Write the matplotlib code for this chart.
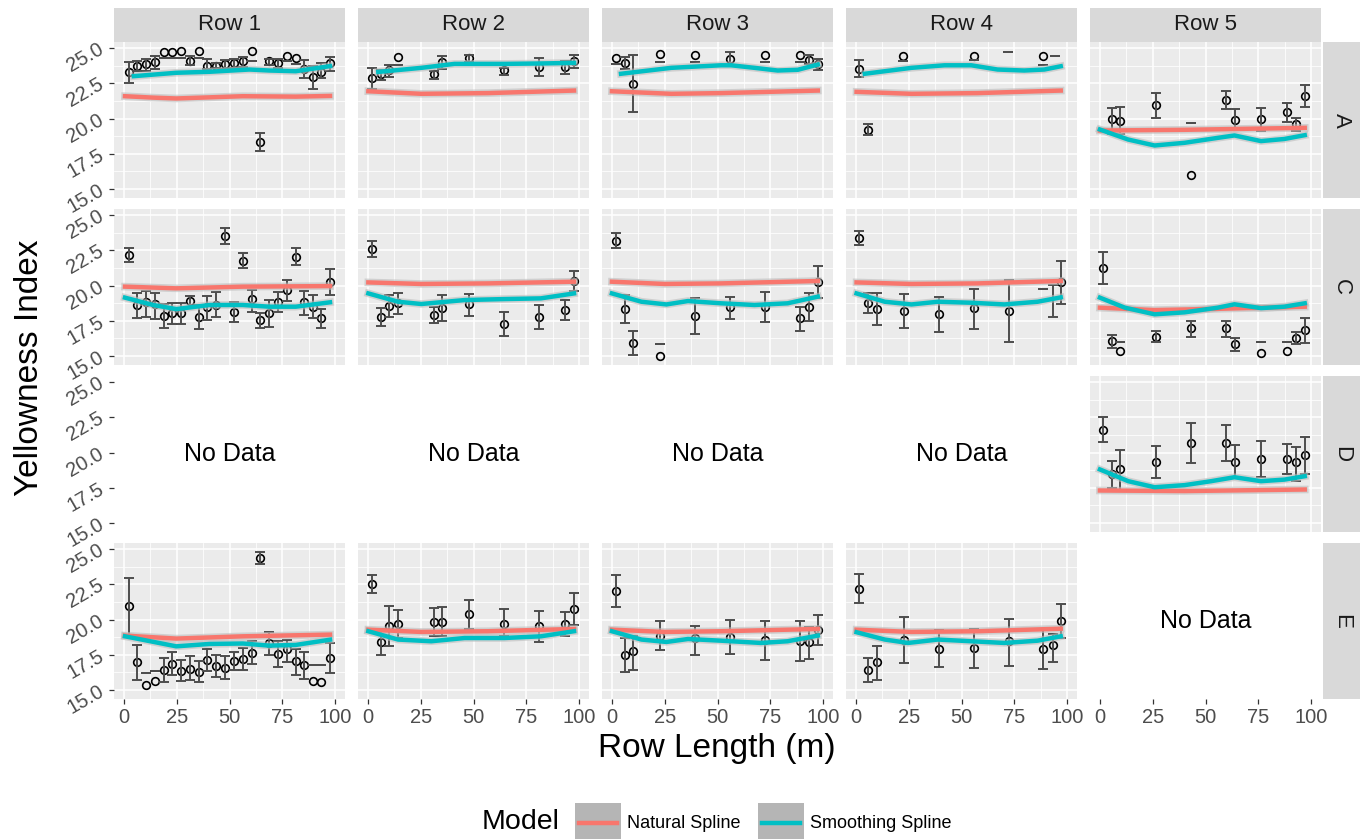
import matplotlib.pyplot as plt
from matplotlib.patches import Rectangle
from matplotlib.lines import Line2D

plt.rcParams["font.family"] = ["Liberation Sans", "DejaVu Sans"]

# facets
ROWS = ["A", "C", "D", "E"]
COLS = ["Row 1", "Row 2", "Row 3", "Row 4", "Row 5"]
EMPTY = ["D1", "D2", "D3", "D4", "E5"]

X_TICKS = [0, 25, 50, 75, 100]
Y_TICKS = [15.0, 17.5, 20.0, 22.5, 25.0]

# sample positions (m) per field row
X1 = [2.4, 6.4, 10.5, 14.6, 18.9, 22.9, 27.2, 31.3, 35.5, 39.5, 43.7, 48.0,
      52.2, 56.3, 60.5, 64.6, 68.9, 73.0, 77.0, 81.3, 85.4, 89.5, 93.5, 97.6]
X2 = [2.0, 6.1, 10.2, 14.3, 31.1, 35.2, 47.8, 64.5, 81.1, 93.5, 97.6]
X3 = [1.9, 6.1, 10.2, 22.6, 39.2, 56.0, 72.5, 89.0, 93.3, 97.5]
X5 = [1.6, 5.5, 9.7, 26.4, 42.9, 59.8, 63.8, 76.3, 88.7, 92.9, 97.0]

# observed points
PT_X = {
    "A1": X1, "C1": X1, "E1": X1,
    "A2": X2, "C2": X2, "E2": X2,
    "A3": X3, "C3": X3, "E3": X3,
    "A4": [1.6, 5.8, 22.3, 55.7, 88.8],
    "C4": [1.6, 5.8, 10.0, 22.6, 39.3, 55.8, 72.3, 97.3],
    "E4": [1.6, 5.8, 10.0, 22.6, 39.3, 55.8, 72.3, 88.8, 93.1, 97.3],
    "A5": X5[1:], "C5": X5, "D5": X5,
}
PT_Y = {
    "A1": [23.28, 23.7, 23.83, 23.99, 24.7, 24.72, 24.77, 24.1, 24.77, 23.75, 23.75, 23.87,
           23.94, 24.06, 24.77, 18.32, 24.06, 23.94, 24.41, 24.32, 23.52, 22.93, 23.28, 23.94],
    "C1": [22.16, 18.62, 18.81, 18.69, 17.84, 18.03, 18.03, 18.9, 17.74, 18.45, 18.62, 23.53,
           18.14, 21.76, 19.04, 17.55, 18.03, 18.85, 19.68, 22.04, 18.85, 18.5, 17.67, 20.23],
    "E1": [20.94, 16.96, 15.36, 15.62, 16.4, 16.87, 16.35, 16.52, 16.3, 17.16, 16.68, 16.6,
           17.06, 17.23, 17.63, 24.37, 18.34, 17.56, 17.94, 17.04, 16.75, 15.67, 15.57, 17.28],
    "A2": [22.88, 23.17, 23.47, 24.34, 23.17, 23.99, 24.3, 23.47, 23.66, 23.66, 24.06],
    "C2": [22.59, 17.79, 18.57, 18.73, 17.91, 18.43, 18.66, 17.27, 17.79, 18.26, 20.32],
    "E2": [22.52, 18.41, 19.57, 19.71, 19.83, 19.83, 20.4, 19.71, 19.52, 19.69, 20.77],
    "A3": [24.3, 23.94, 22.48, 24.58, 24.53, 24.23, 24.53, 24.48, 24.18, 23.87],
    "C3": [23.18, 18.33, 15.95, 15.02, 17.84, 18.45, 18.5, 17.67, 18.5, 20.23],
    "E3": [22.0, 17.51, 17.79, 18.86, 18.69, 18.76, 18.53, 18.5, 18.39, 19.28],
    "A4": [23.52, 19.22, 24.41, 24.41, 24.41],
    "C4": [23.35, 18.78, 18.33, 18.19, 17.95, 18.38, 18.19, 20.23],
    "E4": [22.17, 16.4, 16.97, 18.57, 17.91, 17.98, 18.45, 17.94, 18.17, 19.88],
    "A5": [20.0, 19.81, 20.94, 15.99, 21.3, 19.93, 20.0, 20.45, 19.58, 21.58],
    "C5": [21.26, 16.06, 15.38, 16.37, 16.96, 17.0, 15.83, 15.24, 15.38, 16.26, 16.82],
    "D5": [21.63, 18.49, 18.8, 19.31, 20.69, 20.69, 19.31, 19.55, 19.55, 19.31, 19.81],
}

# error bars (lo == hi draws a single dash)
BAR_X = dict(PT_X)
BAR_X["A4"] = [1.6, 5.8, 22.3, 55.7, 72.2, 88.8, 94.2]
BAR_X["C4"] = [1.6, 5.8, 10.0, 22.6, 39.3, 55.8, 72.3, 88.8, 93.1, 97.3]
BAR_LO = {
    "A1": [22.5, 23.4, 23.35, 23.5, 24.3, 24.3, 24.3, 23.78, 24.3, 23.52, 23.6, 23.52,
           23.6, 23.66, 24.1, 17.68, 23.8, 23.6, 24.1, 23.87, 22.88, 22.1, 22.9, 23.4],
    "C1": [21.69, 17.67, 17.8, 17.6, 17.0, 17.27, 17.27, 18.5, 16.9, 17.55, 17.74, 22.97,
           17.43, 21.26, 18.14, 17.0, 17.08, 18.1, 18.9, 21.45, 17.9, 17.67, 17.0, 19.33],
    "E1": [18.93, 15.69, 16.21, 16.38, 15.55, 16.1, 15.62, 15.7, 15.55, 16.38, 15.9, 15.8,
           16.4, 16.4, 16.87, 23.96, 17.5, 16.64, 16.96, 16.09, 15.79, 16.75, 16.75, 16.21],
    "A2": [22.12, 22.71, 22.93, 23.82, 22.83, 23.5, 24.0, 23.07, 23.0, 23.17, 23.59],
    "C2": [22.04, 17.15, 17.79, 17.98, 17.36, 17.51, 17.86, 16.44, 16.92, 17.55, 19.61],
    "E2": [21.88, 17.46, 18.15, 18.69, 18.86, 18.81, 19.35, 18.81, 18.41, 18.81, 19.59],
    "A3": [23.87, 23.54, 20.45, 24.0, 24.0, 23.82, 24.0, 24.0, 23.87, 23.47],
    "C3": [22.68, 17.32, 15.07, 15.85, 16.54, 17.62, 17.39, 16.8, 17.48, 19.09],
    "E3": [20.87, 16.26, 16.45, 17.82, 17.51, 17.56, 17.16, 17.04, 17.2, 18.17],
    "A4": [22.93, 18.82, 24.1, 24.13, 24.7, 23.82, 24.41],
    "C4": [22.87, 18.07, 17.2, 16.96, 16.73, 16.92, 16.02, 19.73, 17.79, 18.69],
    "E4": [21.18, 15.55, 15.74, 16.92, 16.61, 16.57, 16.68, 16.52, 16.99, 18.69],
    "A5": [18.87, 18.9, 20.05, 19.65, 20.64, 19.34, 19.1, 19.77, 19.1, 20.8],
    "C5": [20.08, 15.55, 15.97, 16.01, 16.37, 16.37, 15.35, 16.01, 15.97, 15.83, 15.94],
    "D5": [20.76, 17.5, 17.38, 18.21, 19.27, 19.43, 18.21, 18.25, 18.49, 17.97, 18.49],
}
BAR_HI = {
    "A1": [24.0, 24.06, 24.25, 24.46, 24.3, 24.3, 24.3, 24.46, 24.3, 24.23, 23.95, 24.13,
           24.2, 24.33, 24.1, 18.94, 24.2, 24.2, 24.1, 23.87, 24.16, 23.72, 23.95, 24.39],
    "C1": [22.64, 19.45, 19.6, 19.5, 18.67, 18.76, 18.76, 19.28, 18.62, 19.26, 19.52, 24.05,
           18.85, 22.28, 19.68, 18.03, 18.97, 19.52, 20.39, 22.64, 19.6, 19.33, 18.33, 21.17],
    "E1": [22.95, 18.22, 16.21, 16.38, 17.25, 17.72, 17.1, 17.4, 17.05, 17.92, 17.5, 17.4,
           17.72, 18.0, 18.45, 24.77, 19.1, 18.45, 18.57, 17.94, 17.7, 16.75, 16.75, 18.34],
    "A2": [23.59, 23.47, 23.77, 23.82, 23.4, 24.46, 24.5, 23.59, 24.3, 24.06, 24.48],
    "C2": [23.16, 18.43, 19.33, 19.44, 18.45, 19.33, 19.4, 18.1, 18.62, 18.97, 21.03],
    "E2": [23.18, 19.35, 20.94, 20.7, 20.82, 20.87, 21.41, 20.75, 20.63, 20.54, 21.88],
    "A3": [23.87, 24.34, 24.53, 24.0, 24.0, 24.7, 24.0, 24.0, 24.53, 24.23],
    "C3": [23.7, 19.33, 16.8, 15.85, 19.14, 19.21, 19.52, 18.5, 19.44, 21.38],
    "E3": [23.14, 18.69, 18.81, 19.87, 19.57, 19.95, 19.87, 19.87, 19.47, 20.35],
    "A4": [24.13, 19.62, 24.1, 24.13, 24.7, 23.82, 24.41],
    "C4": [23.87, 19.44, 19.49, 19.4, 19.21, 19.75, 20.39, 19.73, 20.04, 21.74],
    "E4": [23.23, 17.27, 18.15, 20.18, 19.28, 19.35, 20.06, 19.33, 19.0, 21.13],
    "A5": [20.76, 20.8, 21.82, 19.65, 21.93, 20.64, 20.76, 21.12, 20.07, 22.34],
    "C5": [22.4, 16.49, 15.97, 16.77, 17.5, 17.5, 16.26, 16.01, 15.97, 16.73, 17.67],
    "D5": [22.53, 19.43, 20.21, 20.45, 22.1, 21.93, 20.52, 20.8, 20.62, 20.4, 21.11],
}

# fitted curves: natural spline
NS_X = {
    "A1": [0.5, 13.8, 24.8, 40.6, 56.3, 81.4, 97.6],
    "C1": [0.5, 24.8, 56.3, 97.6],
    "E1": [0.5, 24.8, 56.3, 97.6],
    "A2": [0.2, 25.3, 56.8, 97.6], "C2": [0.2, 25.3, 56.8, 97.6], "E2": [0.2, 25.3, 56.8, 97.6],
    "A3": [0.0, 28.1, 51.7, 97.5], "C3": [0.0, 25.0, 51.7, 97.5], "E3": [0.0, 25.0, 51.7, 97.5],
    "A4": [0.3, 26.3, 57.7, 97.0], "C4": [0.3, 26.3, 57.7, 97.0], "E4": [0.3, 26.3, 57.7, 97.0],
    "A5": [0.0, 40.1, 97.0], "C5": [0.0, 25.9, 55.8, 97.0], "D5": [0.0, 40.1, 97.0],
}
NS_Y = {
    "A1": [21.58, 21.48, 21.42, 21.5, 21.58, 21.55, 21.6],
    "C1": [19.92, 19.8, 19.92, 19.96],
    "E1": [18.86, 18.65, 18.81, 18.93],
    "A2": [21.93, 21.75, 21.8, 21.98], "C2": [20.22, 20.11, 20.15, 20.27], "E2": [19.28, 19.12, 19.17, 19.33],
    "A3": [21.93, 21.75, 21.8, 21.98], "C3": [20.27, 20.11, 20.15, 20.32], "E3": [19.28, 19.12, 19.17, 19.33],
    "A4": [21.89, 21.75, 21.8, 21.98], "C4": [20.22, 20.11, 20.15, 20.32], "E4": [19.28, 19.12, 19.17, 19.35],
    "A5": [19.15, 19.2, 19.34], "C5": [18.43, 18.26, 18.35, 18.5], "D5": [17.31, 17.27, 17.38],
}

# fitted curves: smoothing spline
SS_X = {
    "A1": [4.7, 24.8, 40.6, 59.4, 68.9, 81.4, 97.6],
    "C1": [0.5, 13.8, 24.8, 40.6, 56.3, 68.9, 81.4, 97.6],
    "E1": [0.5, 24.8, 40.6, 56.3, 68.9, 81.4, 97.6],
    "A2": [4.9, 25.3, 41.0, 64.6, 81.9, 97.6],
    "C2": [0.2, 14.3, 25.3, 45.8, 64.6, 81.9, 97.6],
    "E2": [0.2, 14.3, 30.0, 45.8, 64.6, 81.9, 97.6],
    "A3": [4.3, 28.1, 51.7, 56.4, 67.5, 78.5, 88.0, 97.5],
    "C3": [0.0, 14.0, 25.8, 36.0, 51.7, 67.5, 83.2, 97.5],
    "E3": [0.0, 14.0, 25.8, 36.0, 51.7, 70.6, 83.2, 97.5],
    "A4": [4.2, 26.3, 42.0, 54.6, 67.1, 79.7, 89.2, 97.0],
    "C4": [0.3, 13.7, 26.3, 38.8, 54.6, 70.3, 86.0, 97.0],
    "E4": [0.3, 13.7, 24.7, 38.8, 54.6, 70.3, 86.0, 97.0],
    "A5": [0.0, 13.4, 25.9, 40.1, 55.8, 63.7, 76.3, 87.3, 97.0],
    "C5": [0.0, 11.8, 25.9, 40.1, 55.8, 63.7, 76.3, 87.3, 97.0],
    "D5": [0.0, 13.4, 25.9, 40.1, 52.7, 63.7, 76.3, 87.3, 97.0],
}
SS_Y = {
    "A1": [23.0, 23.24, 23.31, 23.47, 23.4, 23.35, 23.71],
    "C1": [19.14, 18.62, 18.33, 18.62, 18.62, 18.5, 18.5, 18.81],
    "E1": [18.81, 18.1, 18.27, 18.3, 18.15, 18.2, 18.57],
    "A2": [23.3, 23.59, 23.87, 23.87, 23.9, 23.94],
    "C2": [19.44, 18.85, 18.69, 18.97, 19.04, 19.09, 19.44],
    "E2": [19.17, 18.58, 18.46, 18.69, 18.69, 18.81, 19.17],
    "A3": [23.17, 23.59, 23.77, 23.77, 23.59, 23.4, 23.45, 23.82],
    "C3": [19.44, 18.85, 18.66, 18.9, 18.74, 18.62, 18.74, 19.21],
    "E3": [19.17, 18.58, 18.41, 18.62, 18.5, 18.34, 18.46, 18.86],
    "A4": [23.17, 23.59, 23.77, 23.77, 23.47, 23.4, 23.47, 23.7],
    "C4": [19.44, 18.85, 18.66, 18.85, 18.78, 18.66, 18.85, 19.16],
    "E4": [19.1, 18.58, 18.34, 18.58, 18.46, 18.34, 18.5, 18.81],
    "A5": [19.22, 18.51, 18.09, 18.28, 18.63, 18.8, 18.4, 18.55, 18.82],
    "C5": [19.14, 18.43, 17.96, 18.1, 18.43, 18.67, 18.4, 18.5, 18.74],
    "D5": [18.8, 17.97, 17.54, 17.69, 17.97, 18.25, 17.97, 18.08, 18.32],
}

RED = "#F8766D"
CYAN = "#00BFC4"

# layout in pixels
FIG_W, FIG_H = 1362, 839
COL_LEFT = [114, 358, 602, 846, 1090]
ROW_TOP = [42, 209, 376, 543]
PW, PH = 231, 156


def box(left, top, w, h):
    return [left / FIG_W, 1 - (top + h) / FIG_H, w / FIG_W, h / FIG_H]


fig = plt.figure(figsize=(FIG_W / 100, FIG_H / 100), dpi=100)

for r, row in enumerate(ROWS):
    for c in range(len(COLS)):
        key = f"{row}{c + 1}"
        ax = fig.add_axes(box(COL_LEFT[c], ROW_TOP[r], PW, PH))
        ax.set_xlim(-4.7, 104.7)
        ax.set_ylim(14.37, 25.42)
        for s in ax.spines.values():
            s.set_visible(False)

        ax.set_xticks(X_TICKS)
        ax.set_xticklabels([str(t) for t in X_TICKS])
        ax.set_yticks(Y_TICKS)
        ax.set_yticklabels([f"{t:.1f}" for t in Y_TICKS], rotation=30,
                           ha="right", va="center", rotation_mode="anchor")
        ax.tick_params(colors="#333333", labelcolor="#4D4D4D", labelsize=14.5,
                       length=3.5, width=0.9, pad=3)
        ax.tick_params(axis="y", pad=5)
        ax.tick_params(left=(c == 0), labelleft=(c == 0),
                       bottom=(r == len(ROWS) - 1), labelbottom=(r == len(ROWS) - 1))

        if key in EMPTY:
            ax.set_facecolor("white")
            ax.text(50, 19.9, "No Data", ha="center", va="center",
                    fontsize=18, color="black")
            continue

        ax.set_facecolor("#EBEBEB")
        ax.set_xticks([12.5, 37.5, 62.5, 87.5], minor=True)
        ax.set_yticks([16.25, 18.75, 21.25, 23.75], minor=True)
        ax.tick_params(which="minor", length=0)
        ax.set_axisbelow(True)
        ax.grid(which="major", color="white", linewidth=1.1)
        ax.grid(which="minor", color="white", linewidth=0.55)

        ax.plot(PT_X[key], PT_Y[key], "o", ms=5.5, mfc="none", mec="black",
                mew=1.2, zorder=3)

        lo, hi = BAR_LO[key], BAR_HI[key]
        mid = [(a + b) / 2 for a, b in zip(lo, hi)]
        ax.errorbar(BAR_X[key], mid,
                    yerr=[[m - a for m, a in zip(mid, lo)], [b - m for m, b in zip(mid, hi)]],
                    fmt="none", ecolor="#4D4D4D", elinewidth=1.4, capsize=3.6,
                    capthick=1.4, zorder=4)

        for xs, ys, col in [(NS_X[key], NS_Y[key], RED), (SS_X[key], SS_Y[key], CYAN)]:
            ax.plot(xs, ys, color="#BDBDBD", lw=5.5, alpha=0.6, zorder=5)
            ax.plot(xs, ys, color=col, lw=3.2, zorder=6)

# strips
for c, name in enumerate(COLS):
    fig.add_artist(Rectangle((COL_LEFT[c] / FIG_W, 1 - 42 / FIG_H), PW / FIG_W, 34 / FIG_H,
                             transform=fig.transFigure, facecolor="#D9D9D9", edgecolor="none"))
    fig.text((COL_LEFT[c] + PW / 2) / FIG_W, 1 - 25 / FIG_H, name, ha="center", va="center",
             fontsize=16, color="#1A1A1A")

for r, row in enumerate(ROWS):
    fig.add_artist(Rectangle((1323 / FIG_W, 1 - (ROW_TOP[r] + PH) / FIG_H), 37 / FIG_W, PH / FIG_H,
                             transform=fig.transFigure, facecolor="#D9D9D9", edgecolor="none"))
    fig.text(1341.5 / FIG_W, 1 - (ROW_TOP[r] + PH / 2) / FIG_H, row, ha="center", va="center",
             rotation=-90, fontsize=16, color="#1A1A1A")

# axis titles
fig.text(717 / FIG_W, 1 - 748 / FIG_H, "Row Length (m)", ha="center", va="center", fontsize=24)
fig.text(30 / FIG_W, 1 - 368 / FIG_H, "Yellowness Index", ha="center", va="center",
         rotation=90, fontsize=24)

# legend
fig.text(482 / FIG_W, 1 - 822 / FIG_H, "Model", ha="left", va="center", fontsize=20.5)
for kx, lab, col in [(575, "Natural Spline", RED), (758, "Smoothing Spline", CYAN)]:
    fig.add_artist(Rectangle((kx / FIG_W, 1 - 845 / FIG_H), 46 / FIG_W, 42 / FIG_H,
                             transform=fig.transFigure, facecolor="#B5B5B5", edgecolor="none"))
    fig.add_artist(Line2D([(kx + 4) / FIG_W, (kx + 42) / FIG_W], [1 - 823 / FIG_H] * 2,
                          transform=fig.transFigure, color=col, lw=3.2))
    fig.text((kx + 52) / FIG_W, 1 - 823 / FIG_H, lab, ha="left", va="center", fontsize=13)

fig.savefig("out.png", dpi=100)
